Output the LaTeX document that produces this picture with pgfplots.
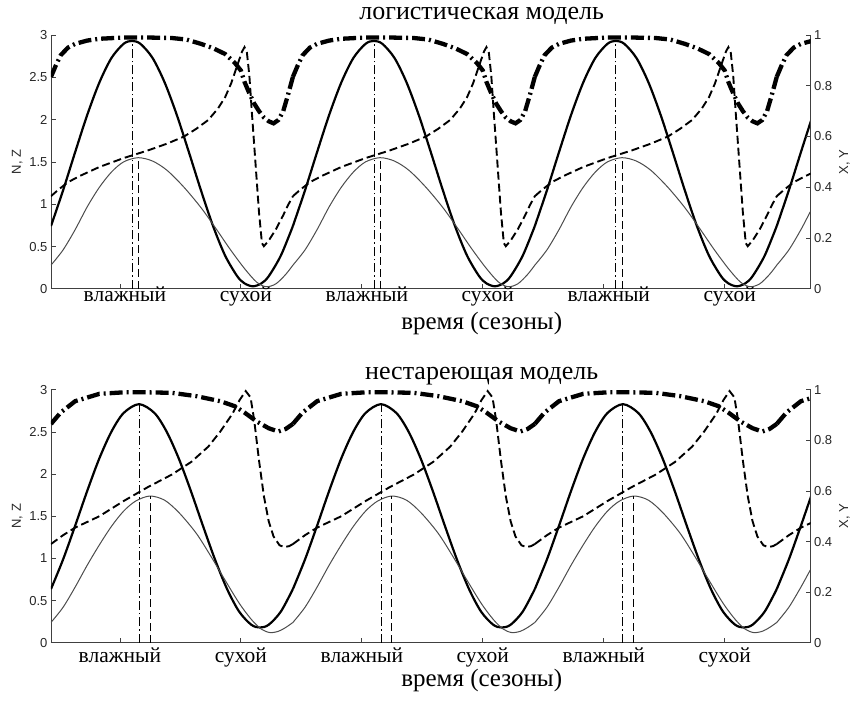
\documentclass[border=0pt]{standalone}
\usepackage{fontspec}
\setmainfont{Liberation Serif}
\setsansfont{Liberation Sans}
\usepackage{pgfplots}
\usepackage{pgfplotstable}
\pgfplotsset{compat=1.18}

% one season (period 1) of each curve, repeated over the time axis
\pgfplotstableread{
t v
0.00 0.742
0.05 1.164
0.10 1.616
0.15 2.056
0.20 2.438
0.25 2.728
0.30 2.895
0.335 2.93
0.37 2.895
0.42 2.728
0.47 2.438
0.52 2.056
0.57 1.616
0.62 1.164
0.67 0.742
0.72 0.392
0.77 0.149
0.80 0.065
0.835 0.03
0.87 0.065
0.90 0.149
0.95 0.392
1.00 0.742
}\topN
\pgfplotstableread{
t v
0.00 0.28
0.05 0.46
0.10 0.70
0.15 0.97
0.20 1.20
0.25 1.38
0.30 1.50
0.36 1.55
0.42 1.51
0.48 1.40
0.55 1.20
0.62 0.96
0.68 0.72
0.74 0.47
0.80 0.24
0.85 0.08
0.89 0.025
0.93 0.06
0.97 0.17
1.00 0.28
}\topZ
\pgfplotstableread{
t v
0.00 0.835
0.02 0.88
0.04 0.92
0.07 0.95
0.10 0.965
0.15 0.978
0.20 0.985
0.30 0.99
0.40 0.99
0.50 0.988
0.56 0.982
0.62 0.965
0.67 0.948
0.72 0.925
0.76 0.89
0.785 0.86
0.80 0.815
0.82 0.77
0.84 0.73
0.86 0.70
0.88 0.675
0.90 0.66
0.92 0.652
0.94 0.665
0.96 0.70
0.98 0.765
1.00 0.835
}\topX
\pgfplotstableread{
t v
0.00 0.365
0.03 0.39
0.07 0.42
0.12 0.445
0.20 0.48
0.30 0.515
0.40 0.545
0.48 0.572
0.55 0.60
0.60 0.63
0.65 0.665
0.69 0.71
0.72 0.755
0.745 0.81
0.77 0.88
0.79 0.935
0.80 0.952
0.81 0.93
0.82 0.84
0.83 0.70
0.845 0.50
0.86 0.30
0.872 0.18
0.88 0.168
0.90 0.19
0.93 0.235
0.96 0.29
0.98 0.33
1.00 0.365
}\topY

\pgfplotstableread{
t v
0.00 0.636
0.05 0.987
0.10 1.388
0.15 1.802
0.20 2.187
0.25 2.504
0.30 2.724
0.364 2.83
0.428 2.724
0.478 2.504
0.528 2.187
0.578 1.802
0.628 1.388
0.678 0.987
0.728 0.636
0.778 0.368
0.828 0.213
0.864 0.18
0.90 0.213
0.95 0.368
1.00 0.636
}\botN
\pgfplotstableread{
t v
0.00 0.24
0.05 0.42
0.10 0.66
0.15 0.92
0.20 1.16
0.25 1.38
0.30 1.56
0.35 1.68
0.409 1.74
0.47 1.69
0.53 1.54
0.60 1.30
0.66 1.03
0.72 0.74
0.78 0.46
0.83 0.27
0.87 0.16
0.905 0.12
0.94 0.135
0.97 0.18
1.00 0.24
}\botZ
\pgfplotstableread{
t v
0.00 0.865
0.04 0.91
0.10 0.955
0.20 0.984
0.30 0.99
0.40 0.99
0.50 0.988
0.60 0.975
0.70 0.955
0.76 0.935
0.80 0.91
0.85 0.875
0.90 0.848
0.94 0.835
0.97 0.845
1.00 0.865
}\botX
\pgfplotstableread{
t v
0.00 0.39
0.05 0.425
0.10 0.455
0.20 0.50
0.30 0.56
0.40 0.615
0.50 0.665
0.58 0.715
0.65 0.775
0.70 0.835
0.75 0.905
0.78 0.96
0.805 0.995
0.825 0.97
0.84 0.88
0.86 0.72
0.88 0.58
0.90 0.48
0.92 0.42
0.945 0.385
0.965 0.378
0.985 0.382
1.00 0.39
}\botY

\pgfplotsset{
  season/.style={
    scale only axis, width=760pt,
    xmin=0, xmax=3.14, ymin=0,
    clip bounding box=upper bound,
    tick align=inside, major tick length=5pt,
    axis line style={black!75, line width=0.8pt},
    tick style={black!75, line width=0.8pt},
    /pgf/number format/assume math mode=true,
    yticklabel style={font=\fontsize{13}{13}\sffamily, text=black!85},
    ylabel style={font=\fontsize{13}{13}\sffamily, text=black!85},
  },
  leftax/.style={season, axis y line*=left, axis x line*=bottom,
    ymax=3, ytick={0,0.5,1,1.5,2,2.5,3},
    xtick={0.285,0.785,1.285,1.785,2.285,2.785},
    xticklabels={влажный,сухой,влажный,сухой,влажный,сухой},
    xticklabel style={font=\fontsize{21.5}{21.5}\selectfont, anchor=base},
    ylabel={N, Z},
    title style={font=\fontsize{26}{26}\selectfont, anchor=base,
      at={(axis description cs:0.567,1)}},
    xlabel style={font=\fontsize{25}{25}\selectfont, anchor=base,
      at={(axis description cs:0.567,0)}},
  },
  rightax/.style={season, axis y line*=right, axis x line=none,
    ymax=1, ytick={0,0.2,0.4,0.6,0.8,1}, ylabel={X, Y}},
  Nline/.style={black, line width=2.2pt, smooth},
  Zline/.style={black!70, line width=1pt, smooth},
  Xline/.style={black, line width=4.3pt, dash pattern=on 13pt off 4pt on 2pt off 4pt},
  Yline/.style={black, line width=1.9pt, dash pattern=on 8pt off 4pt},
  vdd/.style={black, line width=0.8pt, dash pattern=on 9pt off 3pt on 1.5pt off 3pt},
  vd/.style={black, line width=0.8pt, dash pattern=on 8pt off 4pt},
}

\begin{document}
\begin{tikzpicture}

% ---- top panel: logistic model
\begin{axis}[leftax, name=topL, at={(51pt,417pt)}, anchor=south west, height=254pt,
  xticklabel style={yshift=-13pt, xshift=5pt},
  title={логистическая модель}, title style={yshift=9pt},
  xlabel={время (сезоны)}, xlabel style={yshift=-41pt}]
\pgfplotsinvokeforeach{0,1,2,3}{
  \addplot[Nline] table[x expr=\thisrow{t}+#1, y=v]{\topN};
  \addplot[Zline] table[x expr=\thisrow{t}+#1, y=v]{\topZ};
}
\addplot[vdd] coordinates {(0.335,0) (0.335,2.93)};
\addplot[vdd] coordinates {(1.335,0) (1.335,2.93)};
\addplot[vdd] coordinates {(2.335,0) (2.335,2.93)};
\addplot[vd] coordinates {(0.36,0) (0.36,1.55)};
\addplot[vd] coordinates {(1.36,0) (1.36,1.55)};
\addplot[vd] coordinates {(2.36,0) (2.36,1.55)};
\end{axis}
\begin{axis}[rightax, at={(topL.south west)}, anchor=south west, height=254pt]
\pgfplotsinvokeforeach{0,1,2,3}{
  \addplot[Yline] table[x expr=\thisrow{t}+#1, y=v]{\topY};
  \addplot[Xline] table[x expr=\thisrow{t}+#1, y=v]{\topX};
}
\end{axis}

% ---- bottom panel: non-ageing model
\begin{axis}[leftax, name=botL, at={(51pt,63pt)}, anchor=south west, height=253pt,
  xticklabel style={yshift=-20pt},
  title={нестареющая модель}, title style={yshift=4pt},
  xlabel={время (сезоны)}, xlabel style={yshift=-44pt}]
\pgfplotsinvokeforeach{0,1,2,3}{
  \addplot[Nline] table[x expr=\thisrow{t}+#1, y=v]{\botN};
  \addplot[Zline] table[x expr=\thisrow{t}+#1, y=v]{\botZ};
}
\addplot[vdd] coordinates {(0.364,0) (0.364,2.83)};
\addplot[vdd] coordinates {(1.364,0) (1.364,2.83)};
\addplot[vdd] coordinates {(2.364,0) (2.364,2.83)};
\addplot[vd] coordinates {(0.409,0) (0.409,1.74)};
\addplot[vd] coordinates {(1.409,0) (1.409,1.74)};
\addplot[vd] coordinates {(2.409,0) (2.409,1.74)};
\end{axis}
\begin{axis}[rightax, at={(botL.south west)}, anchor=south west, height=253pt]
\pgfplotsinvokeforeach{0,1,2,3}{
  \addplot[Yline] table[x expr=\thisrow{t}+#1, y=v]{\botY};
  \addplot[Xline] table[x expr=\thisrow{t}+#1, y=v]{\botX};
}
\end{axis}

\path (0pt,0pt) rectangle (853pt,706pt);
\end{tikzpicture}
\end{document}
